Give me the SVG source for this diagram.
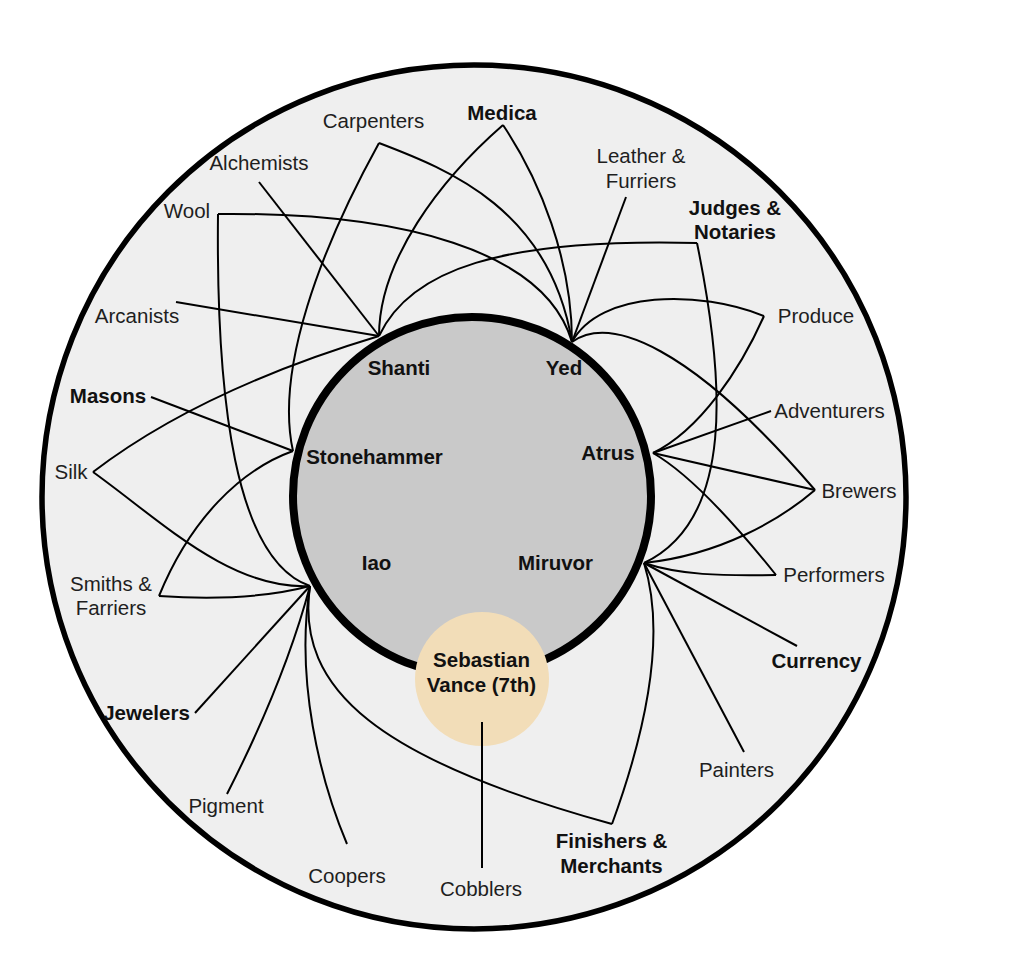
<svg xmlns="http://www.w3.org/2000/svg" width="1024" height="960" viewBox="0 0 1024 960">
<style>
.t{font-family:"Liberation Sans",Arial,sans-serif;font-size:20.5px;fill:#1e1e1e;text-anchor:middle}
.b{font-weight:bold;fill:#111}
.c path{fill:none;stroke:#000;stroke-width:2;stroke-linejoin:miter}
</style>
<rect width="1024" height="960" fill="#fff"/>
<g id="ring"><circle cx="474" cy="497" r="432" fill="#efefef" stroke="#000" stroke-width="5.5"/></g>
<g id="core"><circle cx="472" cy="496" r="179" fill="#c9c9c9" stroke="#000" stroke-width="8"/></g>
<g id="sebastian"><circle cx="482" cy="679" r="67" fill="#f2ddb8"/>
<text class="t b" x="481.5" y="667">Sebastian</text><text class="t b" x="481.5" y="692">Vance (7th)</text></g>
<g id="connectors" class="c">
<path d="M259,182 L379,336"/>
<path d="M176,302 L379,336"/>
<path d="M503,125 C440,180 379,260 379,336"/>
<path d="M379,336 C410,270 500,238 697,243"/>
<path d="M93,472 Q200,390 379,336"/>
<path d="M503,125 C540,180 572,260 572,342"/>
<path d="M379,143 C450,170 550,210 572,342"/>
<path d="M218,214 C400,212 545,250 572,342"/>
<path d="M626,197 L572,342"/>
<path d="M572,342 C600,290 700,290 764,316"/>
<path d="M572,342 C610,315 690,345 815,490"/>
<path d="M653,453 L771,411"/>
<path d="M653,453 L815,490"/>
<path d="M653,453 Q700,480 776,575"/>
<path d="M764,316 C740,370 700,430 653,453"/>
<path d="M697,243 C725,380 735,520 644,563"/>
<path d="M644,563 C720,555 780,520 815,490"/>
<path d="M644,563 C680,575 720,576 776,575"/>
<path d="M644,563 L797,646"/>
<path d="M644,563 L744,752"/>
<path d="M644,563 C665,630 650,720 612,824"/>
<path d="M310,586 C295,690 380,760 612,824"/>
<path d="M310,586 C295,680 320,780 347,844"/>
<path d="M310,586 Q285,680 227,794"/>
<path d="M310,586 L195,713"/>
<path d="M159,596 Q250,602 310,586"/>
<path d="M93,472 C160,520 230,590 310,586"/>
<path d="M218,214 C216,400 235,560 310,586"/>
<path d="M293,451 C240,470 190,520 159,596"/>
<path d="M379,143 C320,250 275,370 293,451"/>
<path d="M151,397 L293,451"/>
<path d="M482,722 L482,868"/>
</g>
<g id="shanti"><text class="t b" x="399" y="375">Shanti</text></g>
<g id="yed"><text class="t b" x="564" y="375">Yed</text></g>
<g id="stonehammer"><text class="t b" x="374.5" y="464">Stonehammer</text></g>
<g id="atrus"><text class="t b" x="608" y="460">Atrus</text></g>
<g id="iao"><text class="t b" x="376.5" y="570">Iao</text></g>
<g id="miruvor"><text class="t b" x="555.5" y="570">Miruvor</text></g>
<g id="carpenters"><text class="t" x="373.5" y="128">Carpenters</text></g>
<g id="medica"><text class="t b" x="502" y="120">Medica</text></g>
<g id="alchemists"><text class="t" x="259" y="170">Alchemists</text></g>
<g id="wool"><text class="t" x="187" y="218">Wool</text></g>
<g id="arcanists"><text class="t" x="137" y="323">Arcanists</text></g>
<g id="leather"><text class="t" x="641" y="163">Leather &amp;</text><text class="t" x="641" y="188">Furriers</text></g>
<g id="judges"><text class="t b" x="735" y="215">Judges &amp;</text><text class="t b" x="735" y="239">Notaries</text></g>
<g id="produce"><text class="t" x="816" y="323">Produce</text></g>
<g id="masons"><text class="t b" x="108" y="403">Masons</text></g>
<g id="silk"><text class="t" x="71" y="479">Silk</text></g>
<g id="smiths"><text class="t" x="111" y="591">Smiths &amp;</text><text class="t" x="111" y="615">Farriers</text></g>
<g id="adventurers"><text class="t" x="829.5" y="418">Adventurers</text></g>
<g id="brewers"><text class="t" x="859" y="498">Brewers</text></g>
<g id="performers"><text class="t" x="834" y="582">Performers</text></g>
<g id="currency"><text class="t b" x="816.5" y="668">Currency</text></g>
<g id="painters"><text class="t" x="736.5" y="777">Painters</text></g>
<g id="finishers"><text class="t b" x="611.5" y="848">Finishers &amp;</text><text class="t b" x="611.5" y="873">Merchants</text></g>
<g id="cobblers"><text class="t" x="481" y="896">Cobblers</text></g>
<g id="coopers"><text class="t" x="347" y="883">Coopers</text></g>
<g id="pigment"><text class="t" x="226" y="813">Pigment</text></g>
<g id="jewelers"><text class="t b" x="146.5" y="720">Jewelers</text></g>
</svg>
